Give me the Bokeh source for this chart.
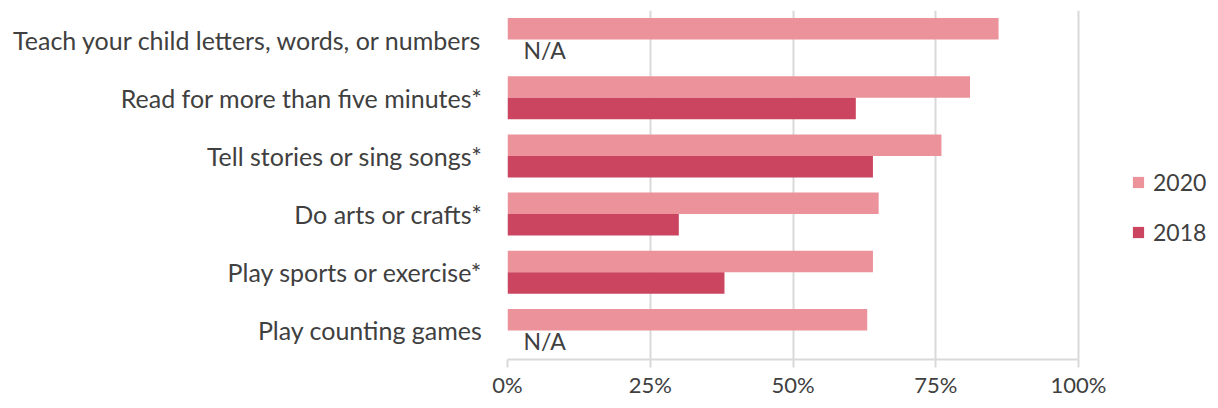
from bokeh.plotting import figure
from bokeh.models import FactorRange, ColumnDataSource, Legend, LegendItem, NumeralTickFormatter, FixedTicker
from bokeh.transform import dodge
from bokeh.core.properties import value
from bokeh.embed import file_html
from bokeh.resources import INLINE

categories = ["Teach your child letters, words, or numbers",
              "Read for more than five minutes*",
              "Tell stories or sing songs*",
              "Do arts or crafts*",
              "Play sports or exercise*",
              "Play counting games"]
v2020 = [0.86, 0.81, 0.76, 0.65, 0.64, 0.63]
v2018 = [None, 0.61, 0.64, 0.30, 0.38, None]
ticks = [0, 0.25, 0.5, 0.75, 1.0]

FONT = "Lato"
TXT = "#404040"
C2020 = "#EC929B"
C2018 = "#CC4560"

# frame spans 507..1218 px; 0..100% spans 507..1078 px
x_end = (1218 - 507) / (1078 - 507)

factors = list(reversed(categories))
p = figure(width=1218, height=408, y_range=FactorRange(*factors), x_range=(0, x_end),
           output_backend="svg", toolbar_location=None,
           min_border_left=507, min_border_right=0, min_border_top=10, min_border_bottom=49)
p.outline_line_color = None
p.background_fill_color = None
p.border_fill_color = "white"

src20 = ColumnDataSource(dict(cat=categories, v=v2020))
cats18 = [c for c, v in zip(categories, v2018) if v is not None]
vals18 = [v for v in v2018 if v is not None]
src18 = ColumnDataSource(dict(cat=cats18, v=vals18))
na_cats = [c for c, v in zip(categories, v2018) if v is None]
src_na = ColumnDataSource(dict(cat=na_cats, x=[0.028] * len(na_cats), t=["N/A"] * len(na_cats)))

r20 = p.hbar(y=dodge("cat", 0.185, range=p.y_range), left=0, right="v", height=0.37,
             source=src20, fill_color=C2020, line_color=None)
r18 = p.hbar(y=dodge("cat", -0.185, range=p.y_range), left=0, right="v", height=0.37,
             source=src18, fill_color=C2018, line_color=None)
p.text(x="x", y=dodge("cat", -0.185, range=p.y_range), text="t", source=src_na,
       text_font=value(FONT), text_font_size="23px", text_color=TXT,
       text_baseline="middle", text_align="left")

p.xgrid.ticker = FixedTicker(ticks=ticks)
p.xgrid.grid_line_color = "#d9d9d9"
p.xgrid.grid_line_width = 2
p.ygrid.grid_line_color = None

p.xaxis.ticker = FixedTicker(ticks=ticks)
p.xaxis.bounds = (ticks[0], ticks[-1])
p.xaxis.formatter = NumeralTickFormatter(format="0%")
p.xaxis.axis_line_color = "#d9d9d9"
p.xaxis.axis_line_width = 2
p.xaxis.major_tick_line_color = "#d9d9d9"
p.xaxis.major_tick_line_width = 2
p.xaxis.major_tick_out = 8
p.xaxis.major_tick_in = 0
p.xaxis.minor_tick_line_color = None
p.xaxis.major_label_text_font = FONT
p.xaxis.major_label_text_font_size = "22px"
p.xaxis.major_label_text_color = TXT
p.xaxis.major_label_standoff = 3

p.yaxis.axis_line_color = None
p.yaxis.major_tick_line_color = None
p.yaxis.minor_tick_line_color = None
p.yaxis.major_label_text_font = FONT
p.yaxis.major_label_text_font_size = "25px"
p.yaxis.major_label_text_color = TXT
p.yaxis.major_label_standoff = 19

legend = Legend(items=[LegendItem(label="2020", renderers=[r20]),
                       LegendItem(label="2018", renderers=[r18])],
                location=(624, 113), orientation="vertical",
                glyph_width=14, glyph_height=14, label_height=25, spacing=22,
                padding=0, margin=0, border_line_color=None, background_fill_alpha=0,
                label_text_font=FONT, label_text_font_size="23px", label_text_color=TXT,
                label_standoff=8)
p.add_layout(legend, "center")

open("out.html", "w").write(file_html(p, INLINE))
